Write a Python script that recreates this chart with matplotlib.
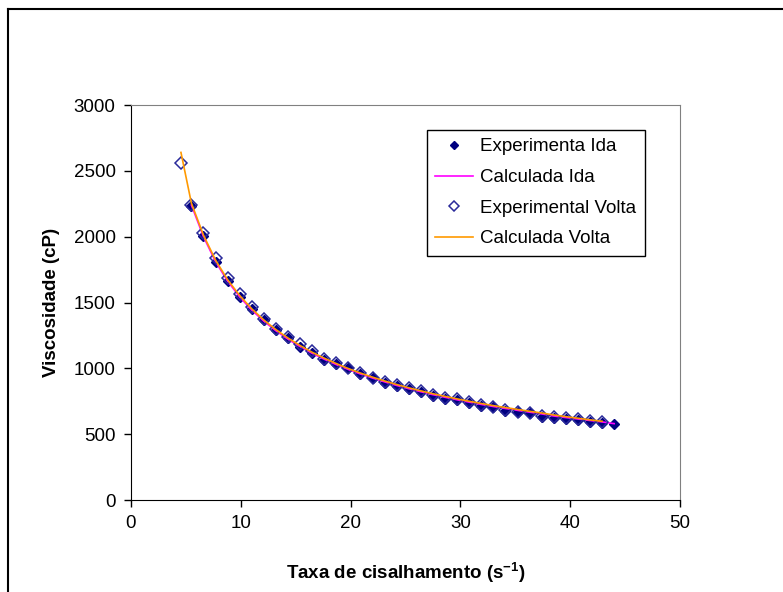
import matplotlib.pyplot as plt
from matplotlib.lines import Line2D

plt.rcParams['font.family'] = ['Liberation Sans', 'DejaVu Sans']

# shear rate (s^-1)
x_ida = [5.5, 6.6, 7.7, 8.8, 9.9, 11.0, 12.1, 13.2, 14.3, 15.4, 16.5, 17.6,
         18.7, 19.8, 20.9, 22.0, 23.1, 24.2, 25.3, 26.4, 27.5, 28.6, 29.7, 30.8,
         31.9, 33.0, 34.1, 35.2, 36.3, 37.4, 38.5, 39.6, 40.7, 41.8, 42.9, 44.0]
x_volta = [4.55, 5.5, 6.6, 7.7, 8.8, 9.9, 11.0, 12.1, 13.2, 14.3, 15.4, 16.5,
           17.6, 18.7, 19.8, 20.9, 22.0, 23.1, 24.2, 25.3, 26.4, 27.5, 28.6, 29.7,
           30.8, 31.9, 33.0, 34.1, 35.2, 36.3, 37.4, 38.5, 39.6, 40.7, 41.8, 42.9]

# viscosity (cP)
exp_ida = [2235, 2007, 1805, 1666, 1544, 1448, 1367, 1291, 1228, 1164, 1119, 1063,
           1033, 1000, 955, 924, 891, 866, 843, 823, 790, 767, 760, 739,
           714, 704, 678, 666, 658, 633, 625, 615, 608, 595, 587, 575]
calc_ida = [2240, 2000, 1810, 1662, 1542, 1442, 1358, 1285, 1221, 1165, 1114, 1069,
            1028, 991, 957, 926, 897, 870, 845, 822, 800, 780, 761, 743,
            726, 710, 695, 681, 667, 654, 638, 626, 615, 604, 593, 580]
exp_volta = [2562, 2240, 2025, 1835, 1684, 1565, 1468, 1377, 1301, 1240, 1182, 1129,
             1073, 1043, 1005, 965, 930, 898, 872, 850, 828, 797, 775, 765,
             745, 720, 708, 685, 672, 662, 640, 630, 620, 612, 600, 590]
calc_volta = [2640, 2255, 2012, 1822, 1673, 1553, 1452, 1367, 1294, 1230, 1173, 1122,
              1077, 1036, 998, 964, 933, 904, 877, 852, 829, 807, 787, 768,
              750, 733, 717, 702, 688, 674, 661, 646, 633, 621, 609, 598]

fig = plt.figure(figsize=(7.83, 5.92), dpi=100)
ax = fig.add_axes([0.1673, 0.1554, 0.7012, 0.6672])

ax.plot(x_ida, exp_ida, linestyle='none', marker='D', markersize=5,
        color='#000080', label='Experimenta Ida')
ax.plot(x_ida, calc_ida, color='#FF00FF', linewidth=1.2, label='Calculada Ida')
ax.plot(x_volta, exp_volta, linestyle='none', marker='D', markersize=6,
        markerfacecolor='none', markeredgecolor='#2a2a9a', markeredgewidth=1.1,
        label='Experimental Volta')
ax.plot(x_volta, calc_volta, color='#FF9900', linewidth=1.2, label='Calculada Volta')

ax.set_xlim(0, 50)
ax.set_ylim(0, 3000)
ax.set_xticks([0, 10, 20, 30, 40, 50])
ax.set_yticks([0, 500, 1000, 1500, 2000, 2500, 3000])
ax.tick_params(direction='out', length=5, width=1, labelsize=13.5, pad=6)
for s in ['left', 'bottom']:
    ax.spines[s].set_color('black')
for s in ['top', 'right']:
    ax.spines[s].set_color('#808080')

ax.set_xlabel('Taxa de cisalhamento (s$^{\\mathregular{-1}}$)', fontsize=13.5,
              fontweight='bold', labelpad=20)
ax.set_ylabel('Viscosidade (cP)', fontsize=13.5, fontweight='bold', labelpad=10)

leg = ax.legend(loc='upper left', bbox_to_anchor=(0.539, 0.937), fontsize=13.5,
                frameon=True, fancybox=False, edgecolor='black', framealpha=1,
                handlelength=2.0, handletextpad=0.4, borderpad=0.45,
                labelspacing=0.72, borderaxespad=0, markerscale=0.8)
leg.get_frame().set_linewidth(1)

# outer chart border (top and left, as cropped)
fig.add_artist(Line2D([8 / 783, 1], [1 - 9 / 592, 1 - 9 / 592], color='black', linewidth=1.5))
fig.add_artist(Line2D([8 / 783, 8 / 783], [0, 1 - 9 / 592], color='black', linewidth=1.5))

fig.savefig('out.png', dpi=100)
